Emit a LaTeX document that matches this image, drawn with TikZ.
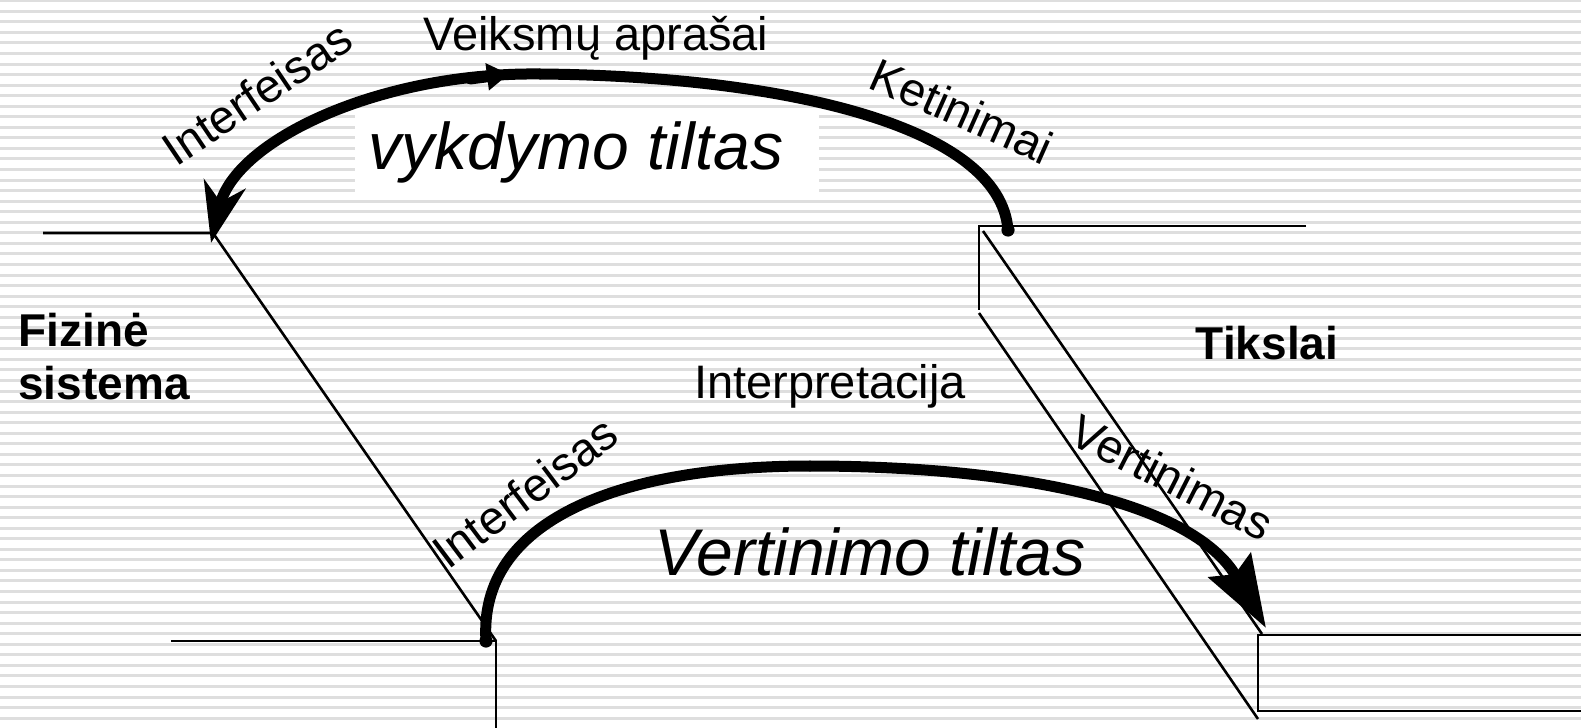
\documentclass[tikz,border=0pt]{standalone}
\usepackage{fontspec}
\setmainfont{Liberation Sans}
\usetikzlibrary{arrows.meta,positioning}
\definecolor{Ink}{HTML}{000000}
\definecolor{Stripe}{HTML}{DEDEDE}

\begin{document}
\begin{tikzpicture}[x=0.5pt,y=-0.5pt,
  stripe/.style={draw=Stripe,line width=1.5pt},
  frame/.style={draw=Ink,line width=1.3pt},
  bridge/.style={draw=Ink,line width=5.5pt,line cap=round},
  lbl/.style={inner sep=0pt,font=\fontsize{23.5}{28}\selectfont},
  title/.style={inner sep=0pt,font=\fontsize{33}{38}\selectfont\itshape},
  side/.style={inner sep=0pt,align=left,font=\fontsize{23}{26.5}\selectfont\bfseries}
]
  \useasboundingbox (0,0) rectangle (1581,728);
  \fill[white] (0,0) rectangle (1581,728);
  \foreach \k in {0,...,68}
    \draw[stripe] (0,{0.7+10.55*\k}) -- (1581,{0.7+10.55*\k});

  % left step
  \draw[frame] (43,233) -- (213,233) -- (496,641);
  \draw[frame] (171,641) -- (496,641) -- (496,728);
  % right step
  \draw[frame] (1306,226) -- (979,226) -- (979,310);
  \draw[frame] (983,231) -- (1262,634);
  \draw[frame] (979,313) -- (1258,719);
  \draw[frame] (1581,635) -- (1258,635) -- (1258,711) -- (1581,711);

  \node[title,fill=white,minimum width=232pt,minimum height=41.5pt] (execTitle) at (587,153.5) {};
  \node[title,anchor=base] (execText) at (576,169) {vykdymo tiltas};
  \node[title,anchor=base] (evalTitle) at (870,575) {Vertinimo tiltas};
  \node[lbl,anchor=base] (actions) at (596,50) {Veiksmų aprašai};
  \node[lbl,anchor=base] (interp) at (830,398) {Interpretacija};
  \node[lbl,rotate=34] (ifaceTop) at (257,93) {Interfeisas};
  \node[lbl,rotate=37] (ifaceBot) at (525,492) {Interfeisas};
  \node[lbl,rotate=-24] (intent) at (962,111) {Ketinimai};
  \node[lbl,rotate=-27] (assess) at (1172,477) {Vertinimas};
  \node[side,anchor=west] (phys) at (18,357) {Fizinė\\sistema};
  \node[side,anchor=base] (goals) at (1267,359) {Tikslai};

  \coordinate (execStart) at (1008,230);
  \coordinate (execTop) at (540,74);
  \coordinate (execEnd) at (211,243);
  \coordinate (midTail) at (470,79);
  \coordinate (midTip) at (509,74);
  \coordinate (evalStart) at (486,641);
  \coordinate (evalTop) at (810,466);
  \coordinate (evalEnd) at (1266,628);

  \draw[bridge] (execStart) .. controls (1000,125) and (780,76) .. (execTop);
  \draw[bridge,-{Stealth[length=30pt,width=21pt,inset=9pt]}] (execTop) .. controls (380,72) and (235,140) .. (execEnd);
  \draw[bridge,-{Triangle[length=11pt,width=13pt]}] (midTail) -- (midTip);
  \fill[Ink] (execStart) circle[radius=3.3pt];

  \draw[bridge] (evalStart) .. controls (478,520) and (620,466) .. (evalTop);
  \draw[bridge,-{Stealth[length=36pt,width=24pt,inset=5pt]}] (evalTop) .. controls (1010,466) and (1192,500) .. (evalEnd);
  \fill[Ink] (evalStart) circle[radius=3.3pt];
\end{tikzpicture}
\end{document}
